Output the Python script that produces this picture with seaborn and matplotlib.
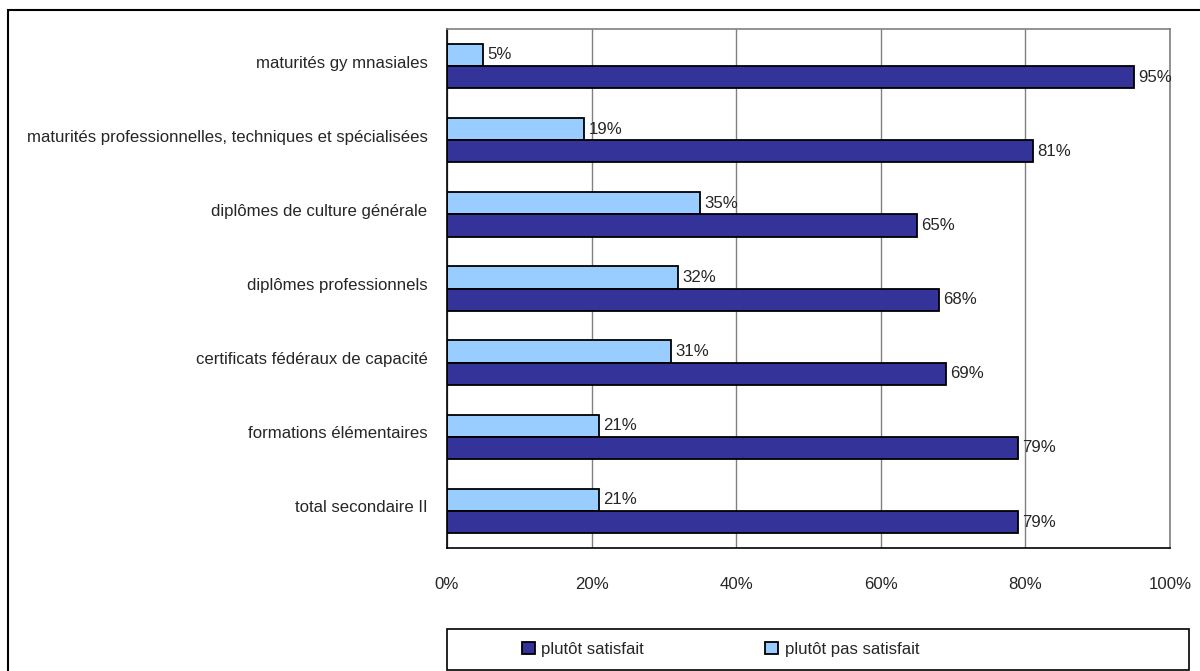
import seaborn as sns
import matplotlib.pyplot as plt
import matplotlib.transforms as mtransforms
import pandas as pd
from matplotlib.patches import Rectangle, Patch
from matplotlib.ticker import FixedLocator

categories = [
    "maturités gy mnasiales",
    "maturités professionnelles, techniques et spécialisées",
    "diplômes de culture générale",
    "diplômes professionnels",
    "certificats fédéraux de capacité",
    "formations élémentaires",
    "total secondaire II",
]
satisfait = [95, 81, 65, 68, 69, 79, 79]
pas_satisfait = [5, 19, 35, 32, 31, 21, 21]
x_ticks = [0, 20, 40, 60, 80, 100]
series = ["plutôt satisfait", "plutôt pas satisfait"]
colors = {"plutôt satisfait": "#333399", "plutôt pas satisfait": "#99CCFF"}

df = pd.DataFrame({
    "categorie": categories * 2,
    "valeur": satisfait + pas_satisfait,
    "serie": [series[0]] * len(categories) + [series[1]] * len(categories),
})

sns.set_style("white")
plt.rcParams["font.family"] = ["Liberation Sans", "DejaVu Sans"]
fs = 12.1

fig = plt.figure(figsize=(12, 6.71), dpi=100)
ax = fig.add_axes([447 / 1200, 1 - 548 / 671, (1170 - 447) / 1200, (548 - 29) / 671])

sns.barplot(data=df, y="categorie", x="valeur", hue="serie",
            hue_order=[series[1], series[0]], order=categories,
            palette=colors, orient="h", width=0.6, ax=ax,
            edgecolor="black", linewidth=1.3, saturation=1, legend=False)

for cont in ax.containers:
    ax.bar_label(cont, fmt="%d%%", padding=3, fontsize=fs)

ax.set_xlim(0, 100)
ax.set_ylim(len(categories) - 0.5, -0.5)
ax.set_xticks(x_ticks)
ax.set_xticklabels([f"{v}%" for v in x_ticks], fontsize=fs)
ax.tick_params(axis="x", direction="out", length=7, width=1, color="black", pad=14)
ax.tick_params(axis="y", which="major", length=0, pad=14, labelsize=fs)
shift = mtransforms.ScaledTranslation(0, 0.045, fig.dpi_scale_trans)
for lab in ax.get_yticklabels():
    lab.set_transform(lab.get_transform() + shift)
ax.yaxis.set_minor_locator(FixedLocator([i - 0.5 for i in range(len(categories) + 1)]))
ax.tick_params(axis="y", which="minor", direction="out", length=7, width=1, color="black")
ax.set_xlabel("")
ax.set_ylabel("")
ax.grid(axis="x", color="#808080", linewidth=1)
ax.set_axisbelow(True)
for side in ["left", "bottom"]:
    ax.spines[side].set_color("black")
    ax.spines[side].set_linewidth(1.2)
for side in ["top", "right"]:
    ax.spines[side].set_color("#808080")
    ax.spines[side].set_linewidth(1.2)

# cadre extérieur
fig.patches.append(Rectangle((8 / 1200, -0.1), 1.2, 1 - 10 / 671 + 0.1,
                             transform=fig.transFigure, fill=False,
                             edgecolor="black", linewidth=1.5))
# cadre de la légende
fig.patches.append(Rectangle((447 / 1200, 1 - 670 / 671), (1189 - 447) / 1200, 41 / 671,
                             transform=fig.transFigure, fill=False,
                             edgecolor="black", linewidth=1.2))

handles = [Patch(facecolor=colors[s], edgecolor="black", linewidth=1.3, label=s) for s in series]
fig.legend(handles=handles, loc="center left", ncol=2, frameon=False,
           bbox_to_anchor=(507 / 1200, 1 - 649.5 / 671), fontsize=fs,
           handlelength=0.75, handleheight=0.75, handletextpad=0.4,
           columnspacing=7.2)

fig.savefig("out.png", dpi=100)
